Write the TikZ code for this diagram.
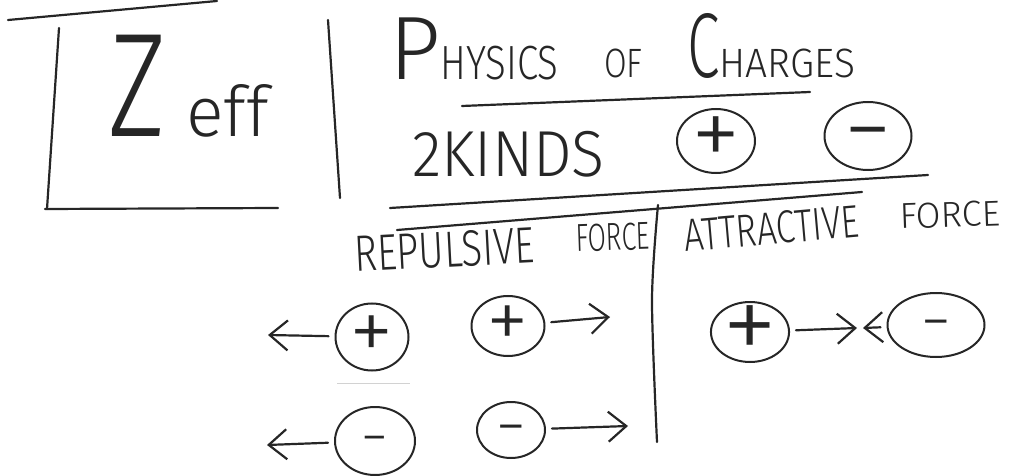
\documentclass[tikz,border=0pt]{standalone}
\usepackage{fontspec}
\usepackage{graphicx}
\setmainfont{Fira Sans}[UprightFont=* Light]
\usetikzlibrary{arrows.meta,shapes.geometric}
\newcommand{\sx}[2]{\scalebox{#1}[1]{#2}}
\newcommand{\fs}[1]{\fontsize{#1}{#1}\selectfont}
\newcommand{\sym}[1]{\raisebox{-0.27em}[0pt][0pt]{#1}}
\definecolor{ink}{HTML}{262626}
\begin{document}
\begin{tikzpicture}[x=1pt,y=-1pt,
  pen/.style={draw=ink,line width=2.2pt,line cap=round},
  charge/.style={draw=ink,ellipse,line width=2pt,inner sep=0pt,text=ink},
  push/.style={draw=ink,line width=2.2pt,line cap=round,-{Straight Barb[length=18pt,width=30pt]},shorten <=6pt},
  lbl/.style={anchor=base west,inner sep=0pt,text=ink}]
\useasboundingbox (0,0) rectangle (1013,476);
% rules
\draw[pen] (8,20) -- (217,1);
\draw[pen] (59,28) -- (47,209);
\draw[pen] (45,209) -- (278,208);
\draw[pen] (328,20) -- (340,198);
\draw[pen] (462,106) -- (810,92);
\draw[pen] (390,208) -- (928,175);
\draw[pen] (397,230) -- (862,192);
\draw[pen] plot[smooth] coordinates {(658,205) (652,300) (657,442)};
\draw[gray!35,line width=1pt] (337,383) -- (410,383);
% Zeff
\node[lbl,font=\fs{148}] (zZ) at (108,137) {\sx{0.76}{Z}};
\node[lbl,font=\fs{70}] (zeff) at (186,137) {eff};
% title
\node[lbl] (physics) at (389,80) {{\fs{90}P}{\fs{48}\sx{0.8}{HYSICS}}};
\node[lbl,font=\fs{41}] (of) at (604,78) {\sx{0.8}{OF}};
\node[lbl] (charges) at (687,78) {{\fs{92}\sx{0.64}{C}}{\fs{41}\sx{0.95}{HARGES}}};
\node[lbl,font=\fs{65}] (kinds) at (412,177) {\sx{0.94}{2KINDS}};
% kinds of charge
\node[charge,minimum width=78pt,minimum height=64pt,font=\fs{100}] (kp) at (716,141) {\sym{+}};
\node[charge,minimum width=87pt,minimum height=68pt,font=\fs{96}] (kn) at (868,136) {\sym{−}};
% headings
\node[lbl,rotate=3,font=\fs{51}] (repulsive) at (355,272) {\sx{0.76}{REPULSIVE}};
\node[lbl,rotate=2,font=\fs{39}] (forceL) at (576,252) {\sx{0.68}{FORCE}};
\node[lbl,rotate=5,font=\fs{46}] (attractive) at (685,252) {\sx{0.76}{ATTRACTIVE}};
\node[lbl,rotate=2,font=\fs{36}] (forceR) at (900,229) {\sx{1.0}{FORCE}};
% repulsive charges
\node[charge,minimum width=73pt,minimum height=67pt,font=\fs{90}] (p1) at (372,337) {\sym{+}};
\node[charge,minimum width=73pt,minimum height=60pt,font=\fs{86}] (p2) at (508,326) {\sym{+}};
\node[charge,minimum width=80pt,minimum height=68pt,font=\fs{54}] (n1) at (375,441) {\sym{−}};
\node[charge,minimum width=68pt,minimum height=56pt,font=\fs{60}] (n2) at (511,430) {\sym{−}};
\coordinate (p1t) at (268,335);
\coordinate (p2t) at (610,317);
\coordinate (n1t) at (267,445);
\coordinate (n2t) at (628,426);
\draw[push] (p1) -- (p1t);
\draw[push] (p2) -- (p2t);
\draw[push] (n1) -- (n1t);
\draw[push] (n2) -- (n2t);
% attractive charges
\node[charge,minimum width=74pt,minimum height=60pt,font=\fs{112}] (ap) at (750,332) {\sym{+}};
\node[charge,minimum width=97pt,minimum height=64pt,font=\fs{60}] (an) at (936,325) {\sym{−}};
\coordinate (apt) at (857,328);
\coordinate (ant) at (863,328);
\draw[push] (ap) -- (apt);
\draw[push] (an) -- (ant);
\end{tikzpicture}
\end{document}
